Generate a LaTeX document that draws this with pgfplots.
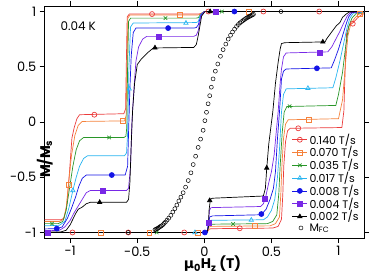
\documentclass[border=0pt]{standalone}
\usepackage{fontspec}
\setmainfont{Poppins}
\newfontfamily\dejavu{DejaVu Sans}
\usepackage{pgfplots}
\pgfplotsset{compat=1.18}
\definecolor{cRed}{RGB}{235,60,60}
\definecolor{cOra}{RGB}{245,130,60}
\definecolor{cGre}{RGB}{40,150,40}
\definecolor{cCya}{RGB}{40,180,240}
\definecolor{cBlu}{RGB}{20,20,230}
\definecolor{cPur}{RGB}{120,40,230}
\pgfplotsset{
  lineleg/.style={legend image code/.code={\draw[sharp plot,mark repeat=2,mark phase=2] plot coordinates {(0cm,0cm) (0.26cm,0cm) (0.52cm,0cm)};}},
}
\begin{document}
\begin{tikzpicture}
\begin{axis}[
  scale only axis, width=319.3bp, height=232bp,
  xmin=-1.19, xmax=1.19, ymin=-1.05, ymax=1.05,
  xtick={-1,-0.5,0,0.5,1}, ytick={-1,-0.5,0,0.5,1},
  tick align=outside, tick pos=both, major tick length=5bp,
  axis line style={line width=0.9pt}, every tick/.style={line width=0.8pt, black},
  /pgf/number format/assume math mode=true,
  ticklabel style={font=\fontsize{13}{15}\selectfont},
  xlabel={\textbf{{\dejavu\bfseries μ}\textsubscript{0}H\textsubscript{z} (T)}},
  ylabel={\textbf{M/M\textsubscript{s}}},
  every axis x label/.style={at={(rel axis cs:0.5,0)}, anchor=center, yshift=-26bp, xshift=8bp, font=\fontsize{14}{16}\selectfont\bfseries},
  every axis y label/.style={at={(rel axis cs:0,0.5)}, rotate=90, anchor=center, xshift=-37bp, font=\fontsize{14}{16}\selectfont\bfseries},
  legend style={draw=none, fill=none, at={(rel axis cs:0.995,0.01)}, anchor=south east,
    font=\fontsize{11}{12}\selectfont, row sep=-3bp, inner sep=1pt},
  legend cell align=left,
  every axis plot/.append style={line width=0.7pt},
  mark size=2.5pt,
]
\coordinate (sw) at (rel axis cs:0,0);
\coordinate (ne) at (rel axis cs:1,1);
% ---------- 0.140 T/s
\addplot[forget plot, cRed] coordinates {(-1.19,-1) (0.02,-1) (0.035,-0.97) (0.05,-0.966) (0.51,-0.96) (0.55,-0.945) (0.575,-0.88) (0.585,-0.65) (0.592,-0.40) (0.605,-0.18) (0.62,-0.08) (0.64,-0.057) (1.025,-0.05) (1.04,0.1) (1.05,0.5) (1.06,0.8) (1.08,0.875) (1.11,0.90) (1.14,0.94) (1.17,0.97) (1.19,0.98)};
\addplot[forget plot, cRed] coordinates {(1.19,1.0) (0.0,1.0) (-0.03,0.98) (-0.05,0.977) (-0.56,0.977) (-0.575,0.95) (-0.582,0.5) (-0.587,0.12) (-0.60,0.075) (-0.93,0.066) (-0.95,0.03) (-0.97,-0.05) (-0.987,-0.145) (-1.005,-0.45) (-1.025,-0.75) (-1.045,-0.87) (-1.07,-0.885) (-1.19,-0.885)};
\addplot[only marks, cRed, mark=o, lineleg] coordinates {(-0.983,-1) (-0.567,-1) (-0.15,-1) (0.264,-0.962) (0.70,-0.057) (1.106,0.89) (0.856,1) (0.44,1) (0.03,1) (-0.39,0.977) (-0.82,0.066)};
\addlegendentry{0.140 T/s}
% ---------- 0.070 T/s
\addplot[forget plot, cOra] coordinates {(-1.19,-1) (0.02,-1) (0.035,-0.95) (0.05,-0.945) (0.49,-0.94) (0.53,-0.92) (0.56,-0.86) (0.57,-0.65) (0.578,-0.40) (0.59,-0.15) (0.605,-0.02) (0.625,0.02) (1.0,0.03) (1.03,0.2) (1.05,0.5) (1.07,0.78) (1.09,0.88) (1.12,0.94) (1.15,0.975) (1.19,0.99)};
\addplot[forget plot, cOra] coordinates {(1.19,1.0) (0.0,1.0) (-0.03,0.975) (-0.05,0.968) (-0.555,0.968) (-0.57,0.94) (-0.577,0.5) (-0.583,0.06) (-0.595,0.01) (-0.91,0.005) (-0.94,-0.03) (-0.965,-0.12) (-0.99,-0.30) (-1.013,-0.567) (-1.03,-0.78) (-1.05,-0.88) (-1.08,-0.90) (-1.19,-0.90)};
\addplot[only marks, cOra, mark=square, lineleg] coordinates {(-0.77,-1) (-0.41,-1) (-0.046,-1) (0.375,-0.942) (0.78,0.02) (1.156,0.98) (0.33,1) (-0.18,0.968) (-0.604,0.01) (-1.013,-0.567)};
\addlegendentry{0.070 T/s}
% ---------- 0.035 T/s
\addplot[forget plot, cGre] coordinates {(-1.19,-1) (0.02,-1) (0.035,-0.93) (0.05,-0.925) (0.47,-0.92) (0.51,-0.90) (0.54,-0.84) (0.555,-0.65) (0.565,-0.40) (0.58,-0.1) (0.595,0.09) (0.615,0.14) (0.98,0.15) (1.0,0.25) (1.03,0.45) (1.055,0.70) (1.075,0.86) (1.10,0.94) (1.13,0.98) (1.19,0.99)};
\addplot[forget plot, cGre] coordinates {(1.19,1.0) (0.0,1.0) (-0.03,0.97) (-0.045,0.945) (-0.06,0.94) (-0.55,0.94) (-0.565,0.91) (-0.572,0.5) (-0.578,-0.05) (-0.585,-0.13) (-0.60,-0.14) (-0.90,-0.14) (-0.93,-0.17) (-0.955,-0.25) (-0.98,-0.40) (-1.005,-0.60) (-1.03,-0.80) (-1.055,-0.90) (-1.09,-0.92) (-1.19,-0.92)};
\addplot[only marks, cGre, mark=x, lineleg] coordinates {(-0.355,-1) (0.214,-0.923) (0.636,0.142) (0.13,1) (-0.29,0.94) (-0.71,-0.14) (-1.136,-0.92)};
\addlegendentry{0.035 T/s}
% ---------- 0.017 T/s
\addplot[forget plot, cCya] coordinates {(-1.19,-1) (0.02,-1) (0.035,-0.9) (0.05,-0.89) (0.44,-0.885) (0.47,-0.86) (0.50,-0.80) (0.525,-0.70) (0.545,-0.50) (0.56,-0.25) (0.575,0.09) (0.59,0.25) (0.61,0.30) (0.958,0.31) (0.98,0.40) (1.01,0.55) (1.04,0.72) (1.065,0.86) (1.085,0.94) (1.11,0.985) (1.19,0.995)};
\addplot[forget plot, cCya] coordinates {(1.19,1.0) (0.0,1.0) (-0.03,0.97) (-0.045,0.91) (-0.06,0.90) (-0.53,0.896) (-0.55,0.86) (-0.562,0.5) (-0.572,-0.1) (-0.58,-0.28) (-0.595,-0.305) (-0.87,-0.305) (-0.90,-0.33) (-0.93,-0.40) (-0.955,-0.50) (-0.98,-0.62) (-1.01,-0.78) (-1.04,-0.90) (-1.08,-0.935) (-1.19,-0.94)};
\addplot[only marks, cCya, mark=triangle, lineleg] coordinates {(-0.07,-1) (0.35,-0.887) (0.772,0.305) (-0.137,0.896) (-0.56,0.30) (-0.98,-0.62)};
\addlegendentry{0.017 T/s}
% ---------- 0.008 T/s
\addplot[forget plot, cBlu] coordinates {(-1.19,-1) (0.02,-1) (0.03,-0.92) (0.04,-0.86) (0.06,-0.85) (0.41,-0.84) (0.43,-0.83) (0.46,-0.79) (0.49,-0.70) (0.515,-0.60) (0.53,-0.45) (0.545,-0.15) (0.56,0.09) (0.575,0.39) (0.59,0.46) (0.61,0.48) (0.946,0.49) (0.97,0.56) (1.0,0.66) (1.03,0.78) (1.055,0.88) (1.075,0.95) (1.10,0.99) (1.19,1.0)};
\addplot[forget plot, cBlu] coordinates {(1.19,1.0) (0.0,1.0) (-0.025,0.97) (-0.045,0.88) (-0.06,0.855) (-0.08,0.85) (-0.51,0.85) (-0.53,0.81) (-0.545,0.6) (-0.555,0.3) (-0.565,-0.1) (-0.572,-0.40) (-0.59,-0.48) (-0.88,-0.48) (-0.91,-0.51) (-0.935,-0.58) (-0.96,-0.68) (-0.99,-0.78) (-1.02,-0.87) (-1.06,-0.95) (-1.10,-0.965) (-1.19,-0.968)};
\addplot[only marks, cBlu, mark=*, lineleg] coordinates {(0.004,-1) (0.425,-0.833) (0.839,0.486) (0.224,1) (-0.27,0.85) (-0.69,-0.48) (-1.1,-0.965)};
\addlegendentry{0.008 T/s}
% ---------- 0.004 T/s
\addplot[forget plot, cPur] coordinates {(-1.19,-1) (0.02,-1) (0.03,-0.93) (0.038,-0.80) (0.05,-0.775) (0.42,-0.765) (0.44,-0.74) (0.455,-0.69) (0.48,-0.55) (0.50,-0.45) (0.52,-0.3) (0.535,-0.1) (0.55,0.09) (0.565,0.35) (0.575,0.48) (0.59,0.59) (0.61,0.625) (0.92,0.635) (0.95,0.68) (0.98,0.75) (1.01,0.82) (1.04,0.90) (1.065,0.96) (1.09,0.99) (1.19,1.0)};
\addplot[forget plot, cPur] coordinates {(1.19,1.0) (0.0,1.0) (-0.025,0.96) (-0.045,0.83) (-0.06,0.785) (-0.08,0.775) (-0.43,0.775) (-0.46,0.75) (-0.49,0.68) (-0.51,0.55) (-0.525,0.3) (-0.54,0.0) (-0.55,-0.4) (-0.565,-0.6) (-0.58,-0.62) (-0.85,-0.62) (-0.88,-0.64) (-0.91,-0.70) (-0.94,-0.76) (-0.97,-0.82) (-1.0,-0.89) (-1.04,-0.95) (-1.08,-0.98) (-1.19,-0.986)};
\addplot[only marks, cPur, mark=square*, lineleg] coordinates {(-1.17,-1) (0.033,-0.914) (0.45,-0.70) (0.858,0.63) (0.088,1) (-0.336,0.775) (-0.757,-0.62)};
\addlegendentry{0.004 T/s}
% ---------- 0.002 T/s
\addplot[forget plot, black] coordinates {(-1.19,-1) (0.02,-1) (0.03,-0.95) (0.035,-0.8) (0.045,-0.70) (0.06,-0.69) (0.44,-0.67) (0.455,-0.60) (0.465,-0.42) (0.48,-0.2) (0.51,0.09) (0.53,0.35) (0.55,0.54) (0.565,0.66) (0.575,0.71) (0.60,0.718) (0.90,0.725) (0.91,0.75) (0.946,0.81) (0.983,0.87) (1.01,0.90) (1.03,0.947) (1.057,0.977) (1.08,0.995) (1.19,1.0)};
\addplot[forget plot, black] coordinates {(1.19,1.0) (0.005,1.0) (-0.02,0.96) (-0.046,0.78) (-0.06,0.70) (-0.08,0.675) (-0.38,0.67) (-0.42,0.63) (-0.47,0.57) (-0.50,0.52) (-0.52,0.35) (-0.535,0.1) (-0.545,-0.2) (-0.555,-0.55) (-0.565,-0.70) (-0.58,-0.727) (-0.85,-0.727) (-0.88,-0.74) (-0.91,-0.77) (-0.94,-0.79) (-0.96,-0.83) (-1.0,-0.93) (-1.03,-0.98) (-1.07,-0.995) (-1.19,-0.995)};
\addplot[only marks, black, mark=triangle*, lineleg] coordinates {(0.04,-0.71) (0.465,-0.416) (0.883,0.725) (0.043,1) (-0.368,0.672) (-0.78,-0.727)};
\addlegendentry{0.002 T/s}
% ---------- M_FC
\addplot[only marks, black, mark=o, mark size=2pt, line width=0.5pt] coordinates {
(-0.567,-1)
(-0.368,-0.975) (-0.36,-0.97) (-0.352,-0.965) (-0.344,-0.96) (-0.336,-0.953) (-0.328,-0.946) (-0.32,-0.94) (-0.31,-0.93) (-0.30,-0.918) (-0.29,-0.905) (-0.278,-0.888) (-0.265,-0.87) (-0.25,-0.845) (-0.235,-0.815) (-0.22,-0.785) (-0.205,-0.752) (-0.19,-0.715) (-0.175,-0.68) (-0.158,-0.64) (-0.14,-0.59) (-0.12,-0.53) (-0.10,-0.46) (-0.083,-0.385) (-0.065,-0.31) (-0.046,-0.23) (-0.028,-0.155) (-0.009,-0.075) (0.004,0.012) (0.016,0.088) (0.028,0.165) (0.04,0.238) (0.052,0.315) (0.065,0.39) (0.082,0.46) (0.10,0.525) (0.12,0.595) (0.14,0.655) (0.16,0.705) (0.178,0.75) (0.195,0.785) (0.21,0.815) (0.225,0.84) (0.24,0.865) (0.253,0.882) (0.265,0.897) (0.277,0.908) (0.288,0.918) (0.298,0.927) (0.307,0.935) (0.316,0.942) (0.325,0.948) (0.334,0.954) (0.342,0.96) (0.35,0.965) (0.358,0.97) (0.366,0.975)
(0.571,1)};
\addlegendentry{M\textsubscript{FC}}
\node[anchor=west, font=\fontsize{12}{14}\selectfont] at (rel axis cs:0.0385,0.914) {0.04 K};
\end{axis}
\pgfresetboundingbox
\path[use as bounding box] ([shift={(-44.7bp,-40bp)}]sw) rectangle ([shift={(10bp,6bp)}]ne);
\end{tikzpicture}
\end{document}
